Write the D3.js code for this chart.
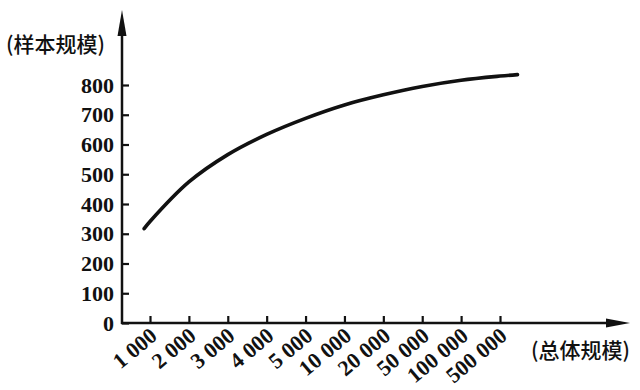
<!DOCTYPE html>
<html>
<head>
<meta charset="utf-8">
<script src="https://cdn.jsdelivr.net/npm/d3@7/dist/d3.min.js"></script>
<style>
  body { margin: 0; background: #fff; }
  svg { display: block; }
</style>
</head>
<body>
<svg id="chart" width="640" height="390"></svg>
<script>
// population size categories (x axis, evenly spaced)
const categories = ["1 000", "2 000", "3 000", "4 000", "5 000",
  "10 000", "20 000", "50 000", "100 000", "500 000"];
// sample size read at each category
const sampleSizes = [341, 474, 566, 634, 688, 733, 767, 795, 816, 830];
// curve runs a little past the first and last tick
const curveStart = { pos: -0.15, value: 317 };
const curveEnd = { pos: 9.45, value: 835 };
const yTicks = [0, 100, 200, 300, 400, 500, 600, 700, 800];

const svg = d3.select("#chart");
const ink = "#111";
const numFont = "'Liberation Serif', 'DejaVu Serif', serif";
const cjkFont = "'Noto Sans CJK SC', sans-serif";

const x = d3.scalePoint().domain(categories).range([150, 500]);
const xi = d3.scaleLinear().domain([0, categories.length - 1]).range([150, 500]);
const y = d3.scaleLinear().domain([0, 800]).range([323, 85]);

const axisX0 = 122, axisY0 = y(0);

// y axis
const gy = svg.append("g")
    .attr("transform", `translate(${axisX0},0)`)
    .call(d3.axisLeft(y).tickValues(yTicks).tickSizeInner(-7).tickSizeOuter(0).tickPadding(8));
gy.select(".domain").remove();
gy.selectAll(".tick line").attr("stroke", ink).attr("stroke-width", 2.2);
gy.selectAll(".tick text")
    .attr("fill", ink)
    .style("font-family", numFont)
    .style("font-size", "22px")
    .style("font-weight", "bold");

// x axis
const gx = svg.append("g")
    .attr("transform", `translate(0,${axisY0})`)
    .call(d3.axisBottom(x).tickSizeInner(-7).tickSizeOuter(0).tickPadding(0));
gx.select(".domain").remove();
gx.selectAll(".tick line").attr("stroke", ink).attr("stroke-width", 2.2);
gx.selectAll(".tick text")
    .attr("fill", ink)
    .attr("text-anchor", "end")
    .attr("dy", null)
    .attr("transform", "translate(8,15) rotate(-40)")
    .style("font-family", numFont)
    .style("font-size", "22px")
    .style("font-weight", "bold");

// axis lines with arrow heads
svg.append("line")
    .attr("x1", axisX0).attr("x2", axisX0)
    .attr("y1", axisY0 + 1).attr("y2", 30)
    .attr("stroke", ink).attr("stroke-width", 2.5);
svg.append("path")
    .attr("d", `M${axisX0},10 L${axisX0 - 4.5},36 L${axisX0 + 4.5},36 Z`)
    .attr("fill", ink);

svg.append("line")
    .attr("x1", axisX0 - 1).attr("x2", 612)
    .attr("y1", axisY0).attr("y2", axisY0)
    .attr("stroke", ink).attr("stroke-width", 2.5);
svg.append("path")
    .attr("d", `M630,${axisY0} L606,${axisY0 - 4.5} L606,${axisY0 + 4.5} Z`)
    .attr("fill", ink);

// axis titles
svg.append("text")
    .attr("x", 6).attr("y", 52)
    .attr("fill", ink)
    .style("font-family", cjkFont)
    .style("font-size", "21px")
    .style("font-weight", "500")
    .text("(样本规模)");

svg.append("text")
    .attr("x", 531).attr("y", 358)
    .attr("fill", ink)
    .style("font-family", cjkFont)
    .style("font-size", "21px")
    .style("font-weight", "500")
    .text("(总体规模)");

// curve
const pts = [curveStart]
    .concat(sampleSizes.map((v, i) => ({ pos: i, value: v })))
    .concat([curveEnd]);

const line = d3.line()
    .x(d => xi(d.pos))
    .y(d => y(d.value))
    .curve(d3.curveCatmullRom.alpha(0.5));

svg.append("path")
    .datum(pts)
    .attr("fill", "none")
    .attr("stroke", ink)
    .attr("stroke-width", 3.6)
    .attr("stroke-linecap", "round")
    .attr("d", line);
</script>
</body>
</html>
